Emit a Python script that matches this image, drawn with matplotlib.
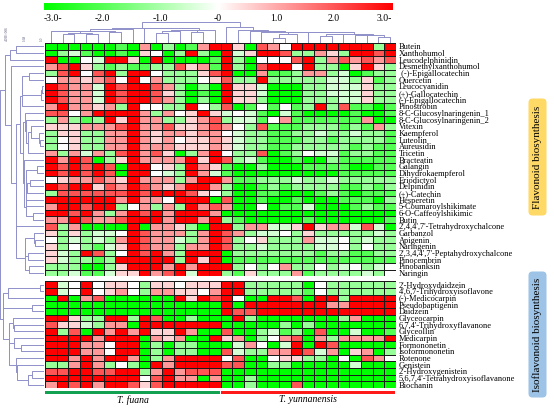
import numpy as np
import matplotlib
matplotlib.use("Agg")
import matplotlib.pyplot as plt
from matplotlib.colors import LinearSegmentedColormap
from matplotlib.patches import FancyBboxPatch, Rectangle

plt.rcParams['font.family'] = ['Liberation Serif', 'DejaVu Serif']

# ---- data (log-scaled, row-normalised abundance) ----
flav_names = ["Butein", "Xanthohumol", "Leucodelphinidin", "Desmethylxanthohumol",
              " (-)-Epigallocatechin", "Quercetin", "Leucocyanidin", "(+)-Gallocatechin",
              "(-)-Epigallocatechin", "Pinostrobin", "8-C-Glucosylnaringenin_1",
              "8-C-Glucosylnaringenin_2", "Vitexin", "Kaempferol", "Luteolin", "Aureusidin",
              "Tricetin", "Bracteatin", "Galangin", "Dihydrokaempferol", "Eriodictyol",
              "Delpinidin", "(+)-Catechin", "Hesperetin", "5-Coumaroylshikimate",
              "6-O-Caffeoylshikimic", "Butin", "2',4,4',7'-Tetrahydroxychalcone", "Garbanzol",
              "Apigenin", "Naringenin", "2',3,4,4',7'-Peptahydroxychalcone", "Pinocembrin",
              "Pinobanksin", "Naringin"]

flav_vals = [
    [-3,-3,-3,-3,-3,-3,-2,-3,1.2,-3,-1.2,-3,-2,1.2,3, 3,0.5,-3,2,1.2,0,3,3,3,3,3,3,3,-1.2,3],
    [-3,-1.2,-0.5,-2,-3,-3,-2,-3,0.5,0,-3,-1.2,3,-1.2,-3, 3,-0.5,0.5,3,3,2,-1.2,-1.2,1.2,0.5,-1.2,3,3,2,3],
    [3,-3,-3,0,-0.5,3,3,0.5,-3,3,-3,-3,-3,-3,-2, 3,-1.2,-3,0,0,0,2,3,-1.2,1.2,2,1.2,2,1.2,2],
    [1.2,2,3,0.5,-1.2,-2,-1.2,-2,-2,-1.2,-1.2,2,0.5,1.2,-2, 3,-1.2,-3,2,3,3,0,3,-1.2,-1.2,-3,0.5,3,0.5,-1.2],
    [-1.2,2,3,0,2,3,-1.2,3,3,0,-1.2,-1.2,-1.2,0.5,2, 3,-3,-3,1.2,-2,-2,-1.2,1.2,1.2,-1.2,-0.5,-3,-2,-1.2,-1.2],
    [0,1.2,1.2,0.5,1.2,2,0,3,0,1.2,-1.2,-1.2,-1.2,0,0.5, 2,-1.2,-1.2,3,-1.2,-1.2,-1.2,-1.2,-1.2,-0.5,-0.5,-1.2,0.5,-2,-1.2],
    [3,2,1.2,1.2,-0.5,3,2,3,3,2,1.2,-1.2,-3,-1.2,-3, 3,0.5,0.5,-0.5,-3,-3,-3,-1.2,-1.2,-0.5,-0.5,-0.5,0.5,-1.2,-1.2],
    [3,2,1.2,1.2,-0.5,3,2,3,3,2,0.5,-1.2,-3,-2,-3, 3,0.5,0.5,-0.5,-3,-3,-3,-1.2,-1.2,-0.5,-0.5,-0.5,0.5,-1.2,-1.2],
    [3,2,1.2,1.2,-0.5,3,2,3,3,2,1.2,-1.2,-3,-1.2,-3, 3,0.5,0.5,-1.2,-3,-3,-3,-1.2,-1.2,-1.2,-0.5,-0.5,0.5,-1.2,-1.2],
    [1.2,3,1.2,1.2,0.5,1.2,-1.2,3,0,0,-1.2,-1.2,3,0,-1.2, 2,-3,-2,0,-2,0,-2,-1.2,3,-1.2,2,-2,-2,-3,-2],
    [2,2,0,1.2,3,3,3,3,1.2,-1.2,1.2,0,0.5,3,0.5, -0.5,0,-0.5,-2,-3,-0.5,-2,-3,-3,-3,-3,-2,-3,-3,-2],
    [-1.2,1.2,-1.2,-2,-1.2,3,0.5,3,1.2,1.2,-1.2,-1.2,0.5,1.2,2, -1.2,-0.5,-0.5,-2,0,1.2,-2,-2,-2,-2,-2,-2,1.2,-3,-3],
    [0.5,0.5,0.5,1.2,1.2,1.2,2,3,1.2,1.2,2,0.5,0.5,1.2,2, 1.2,0,-1.2,2,-2,-2,-2,-1.2,-1.2,-1.2,-2,-1.2,-2,1.2,-1.2],
    [-1.2,0.5,0.5,-1.2,-1.2,1.2,1.2,3,1.2,0.5,1.2,1.2,0.5,1.2,1.2, 0,-0.5,-1.2,-1.2,-2,-2,-1.2,-1.2,-0.5,-1.2,-1.2,-0.5,-1.2,-1.2,-2],
    [-1.2,0,0.5,-1.2,-1.2,1.2,1.2,3,1.2,0.5,1.2,0,0.5,0.5,1.2, 0.5,-0.5,-1.2,-1.2,-2,-2,-2,-1.2,-1.2,-2,-1.2,-1.2,-1.2,-1.2,-2],
    [-1.2,0,0.5,-1.2,-1.2,1.2,1.2,3,1.2,1.2,1.2,0.5,0.5,0.5,1.2, 0.5,-0.5,-1.2,-1.2,-2,-2,-1.2,-1.2,-1.2,-1.2,-1.2,-2,-1.2,-2,-2],
    [1.2,-1.2,1.2,-0.5,1.2,-1.2,2,3,1.2,2,0.5,-3,-1.2,1.2,3, 0,-1.2,-1.2,2,-3,-2,-1.2,0,-0.5,-0.5,-2,-1.2,-1.2,-2,-2],
    [3,1.2,3,2,-3,-1.2,0.5,3,1.2,1.2,1.2,1.2,3,0.5,3, 2,-1.2,-0.5,-2,-3,-3,-2,-3,-3,-1.2,-2,-2,-2,-2,-2],
    [3,2,3,2,3,2,-3,3,3,0,0.5,-1.2,3,1.2,0.5, -2,-3,-3,-1.2,-3,-3,-3,-2,-2,-2,-2,-3,-3,-2,-2],
    [3,2,3,2,3,2,-3,3,3,0,-0.5,-1.2,3,1.2,-0.5, -2,-3,-3,-3,-3,-3,-3,-3,-3,-3,-2,-2,-2,-2,-2],
    [0,0.5,1.2,1.2,2,1.2,0.5,3,1.2,1.2,1.2,-1.2,1.2,3,3, 1.2,-2,-2,-1.2,-1.2,-1.2,-0.5,-1.2,-1.2,-0.5,-1.2,-1.2,-1.2,-1.2,-1.2],
    [3,2,3,3,0.5,2,1.2,3,2,1.2,0.5,1.2,3,3,1.2, -1.2,-3,-3,-2,-1.2,-2,-1.2,-1.2,-1.2,-1.2,-2,-2,-1.2,-2,-1.2],
    [-1.2,2,2,2,2,2,2,3,2,3,3,3,2,0.5,0, -1.2,-3,-3,-2,-2,-3,-3,-3,-2,-1.2,-2,-3,-2,-2,-2],
    [3,3,3,3,3,3,1.2,3,1.2,1.2,0,3,3,3,-3, 2,-3,-3,-2,-3,-3,-2,-3,-3,-3,-2,-2,-2,-3,-1.2],
    [1.2,3,3,2,3,3,-1.2,0,1.2,-1.2,1.2,-1.2,3,1.2,2, 1.2,-3,-3,0,-3,-2,-2,-0.5,-3,-3,-3,-2,-1.2,-2,-2],
    [3,3,2,3,1.2,-1.2,1.2,3,2,3,1.2,3,3,3,1.2, -3,-3,-3,-3,-3,-3,-3,-3,-3,-3,-3,-3,-3,-3,-3],
    [1.2,1.2,3,2,1.2,1.2,2,3,3,3,1.2,3,3,1.2,3, -1.2,-2,-3,-3,-3,-3,-3,-2,-3,-3,-3,-3,-3,-3,-2],
    [2,-1.2,1.2,-3,-3,-3,-3,3,-3,1.2,1.2,0.5,-1.2,-3,3, 3,-1.2,1.2,1.2,-0.5,-0.5,0.5,3,0.5,1.2,1.2,-0.5,2,-0.5,-3],
    [0.5,-1.2,0.5,-1.2,-0.5,-0.5,0,3,2,1.2,1.2,1.2,-1.2,1.2,3, 2,1.2,-1.2,-0.5,-0.5,0,-1.2,0.5,-1.2,-1.2,-1.2,-1.2,-1.2,-0.5,-1.2],
    [0,-1.2,-0.5,-1.2,-0.5,-1.2,1.2,3,2,1.2,1.2,-0.5,-1.2,1.2,3, 2,-1.2,0,0.5,-1.2,-1.2,-1.2,1.2,-0.5,-0.5,0,-1.2,-0.5,-1.2,-1.2],
    [0.5,-1.2,0,-1.2,-2,-0.5,0.5,3,2,1.2,1.2,-1.2,1.2,1.2,3, 2,-1.2,-1.2,-0.5,-1.2,-1.2,-1.2,-1.2,-0.5,-0.5,0,-1.2,0,-1.2,-1.2],
    [0.5,-0.5,-1.2,3,2,-1.2,0,3,2,3,1.2,-1.2,3,3,3, -3,-1.2,-1.2,-1.2,-1.2,-1.2,-1.2,-1.2,-2,-1.2,-1.2,-2,-2,-1.2,-1.2],
    [0.5,-0.5,-1.2,-1.2,-2,-1.2,3,3,3,3,3,-1.2,3,0.5,3, -3,-2,-2,-2,-2,-2,-2,-2,-2,-2,-2,-2,-2,-2,-2],
    [-1.2,-1.2,-1.2,-3,-3,-1.2,0.5,3,3,3,1.2,3,1.2,3,3, 3,-1.2,0,-1.2,0,1.2,-1.2,-1.2,0,-1.2,-0.5,0,-1.2,-0.5,0],
    [-1.2,-1.2,-0.5,-2,-2,-0.5,0.5,0.5,3,1.2,2,3,-0.5,3,3, -1.2,-2,0.5,-1.2,-1.2,-1.2,1.2,-2,-1.2,-1.2,-1.2,-1.2,-0.5,-1.2,0],
]

iso_names = ["2'-Hydroxydaidzein", "4',6,7-Trihydroxyisoflavone", "(-)-Medicocarpin",
             "Pseudobaptigenin", "Daidzein", "Glyceocarpin", "6,7,4'-Trihydroxyflavanone",
             "Glyceollin", "Medicarpin", "Formononetin", "Isoformononetin", "Rotenone",
             "Genistein", "2'-Hydroxygenistein", "5,6,7,4'-Tetrahydroxyisoflavanone", "Biochanin"]

iso_vals = [
    [3,-0.5,0,3,0,0.5,0.5,0,-1.2,0.5,0.5,0,0.5,0.5,0.5, 3,3,-1.2,-1.2,-1.2,-1.2,-1.2,-3,0,-1.2,-1.2,-1.2,-1.2,-1.2,-1.2],
    [3,-0.5,0,3,0,0.5,1.2,0,-1.2,1.2,1.2,0.5,0.5,0,1.2, 3,3,-1.2,-1.2,-1.2,-1.2,-1.2,-2,0,-1.2,-1.2,-1.2,-1.2,-1.2,-1.2],
    [-3,3,-3,1.2,2,-3,-3,-3,-3,-3,-3,3,0.5,3,2, 3,0,-3,-3,3,3,2,-3,3,3,-1.2,3,3,3,3],
    [-3,-3,-3,-3,-3,-3,-3,-3,-3,-3,-3,-3,-3,-3,-3, 3,-3,3,3,3,3,3,3,3,1.2,1.2,3,3,3,3],
    [-3,-3,-3,-3,-3,-3,-3,-3,-3,-3,-3,-3,-3,-3,-3, 3,2,2,3,3,3,3,3,3,3,3,3,3,3,3],
    [3,3,0.5,-1.2,-1.2,3,3,-1.2,3,2,-3,-3,-1.2,-3,-3, -3,3,-1.2,-3,-3,-3,-3,-3,-3,-3,-1.2,1.2,-3,-3,-3],
    [2,0.5,0.5,-0.5,-1.2,1.2,1.2,-3,3,3,3,3,3,3,3, -3,-3,-3,-3,-3,-1.2,-3,-1.2,-3,-3,-3,-3,-3,-3,-3],
    [3,-1.2,2,-3,3,1.2,3,1.2,3,0.5,0.5,3,1.2,-3,-3, 2,-3,-3,-1.2,-0.5,-2,-1.2,-3,2,-3,-3,-0.5,-3,-3,-2],
    [3,3,3,3,1.2,3,3,3,-3,1.2,0.5,1.2,-3,-3,3, 0.5,1.2,-3,-1.2,0,1.2,2,-3,1.2,-1.2,1.2,1.2,1.2,1.2,3],
    [3,3,3,1.2,1.2,0,3,3,-3,-1.2,-3,-1.2,-1.2,-3,-3, -3,-0.5,1.2,0,-3,-0.5,3,-3,3,2,-3,-3,-3,-3,-3],
    [3,3,3,1.2,1.2,0,3,3,-3,-1.2,-3,-1.2,-1.2,-3,-3, 2,-0.5,-1.2,-1.2,1.2,1.2,3,2,-0.5,1.2,-3,0.5,1.2,-3,-1.2],
    [3,3,1.2,3,1.2,3,3,1.2,-3,-1.2,1.2,3,3,3,3, 0,2,-3,-3,0,0.5,0.5,-1.2,-1.2,-3,0,-3,2,1.2,0],
    [-1.2,-1.2,1.2,3,1.2,-1.2,0,-1.2,-3,3,1.2,3,3,3,3, 2,2,-3,-3,-1.2,-1.2,-3,-3,-3,-3,-3,-0.5,-3,-3,-3],
    [2,2,3,3,2,2,3,3,-1.2,1.2,3,1.2,2,2,2, -3,-3,-3,-3,-3,-3,-3,-3,-3,-3,-3,-3,-3,-3,-3],
    [3,3,3,3,3,3,3,3,0,2,3,1.2,1.2,-3,1.2, -3,-3,-1.2,-3,-3,-3,-3,-3,-3,-3,-3,-3,-3,-3,-3],
    [1.2,3,2,3,1.2,3,3,2,0.5,2,3,3,3,3,3, -3,-3,-1.2,-3,-3,-3,2,-3,-3,-3,-3,-3,-3,-3,-3],
]

groups = ["T. fuana", "T. yunnanensis"]
n_per_group = [15, 15]
cbar_ticks = [-3, -2, -1, 0, 1, 2, 3]
cbar_labels = ["-3.0-", "-2.0", "-1.0", "-0", "1.0", "2.0", "3.0-"]

# ---- layout in pixels ----
W, H = 554, 409
HX0, HX1 = 45, 396
FY0, FY1 = 43, 276.4
IY0, IY1 = 281.3, 388
DCOL = '#9090CA'

fig = plt.figure(figsize=(W / 100, H / 100), dpi=100)


def px_axes(x0, y0, x1, y1):
    return fig.add_axes([x0 / W, 1 - y1 / H, (x1 - x0) / W, (y1 - y0) / H])


cmap = LinearSegmentedColormap.from_list('gwr', ['#00FF00', '#FFFFFF', '#FF0000'])
flav = np.array(flav_vals, dtype=float)
iso = np.array(iso_vals, dtype=float)


# adjacency constrained average linkage (keeps the drawn order)
def adj_linkage(M, pos):
    cl = [dict(idx=[i], pos=pos[i], h=0.0) for i in range(len(M))]
    segs = []
    while len(cl) > 1:
        best = None
        for k in range(len(cl) - 1):
            a, b = cl[k], cl[k + 1]
            d = np.mean([np.linalg.norm(M[i] - M[j]) for i in a['idx'] for j in b['idx']])
            if best is None or d < best[0]:
                best = (d, k)
        d, k = best
        a, b = cl[k], cl[k + 1]
        h = max(d, a['h'], b['h'])
        segs.append((a['pos'], a['h'], b['pos'], b['h'], h))
        cl[k:k + 2] = [dict(idx=a['idx'] + b['idx'], pos=(a['pos'] + b['pos']) / 2, h=h)]
    return segs, cl[0]


# heatmaps
for vals, names, y0, y1 in [(flav, flav_names, FY0, FY1), (iso, iso_names, IY0, IY1)]:
    ax = px_axes(HX0, y0, HX1, y1)
    ax.pcolormesh(vals, cmap=cmap, vmin=-3, vmax=3, edgecolors='#1a1a1a', linewidth=0.45)
    ax.set_xlim(0, vals.shape[1])
    ax.set_ylim(vals.shape[0], 0)
    ax.set_xticks([])
    ax.yaxis.tick_right()
    ax.set_yticks(np.arange(len(names)) + 0.5)
    ax.set_yticklabels(names, fontsize=6.0)
    ax.tick_params(axis='y', length=0, pad=2.2)
    for s in ax.spines.values():
        s.set_visible(False)

# column dendrogram
allv = np.vstack([flav, iso])
csegs, croot = adj_linkage(allv.T, np.arange(allv.shape[1]) + 0.5)
axt = px_axes(HX0, 22, HX1, FY0)
for pa, ha, pb, hb, h in csegs:
    axt.plot([pa, pa, pb, pb], [ha, h, h, hb], color=DCOL, lw=0.7)
axt.set_xlim(0, allv.shape[1])
axt.set_ylim(0, croot['h'])
axt.axis('off')

# row dendrogram
fpos = FY0 + (FY1 - FY0) * (np.arange(len(flav)) + 0.5) / len(flav)
ipos = IY0 + (IY1 - IY0) * (np.arange(len(iso)) + 0.5) / len(iso)
s1, r1 = adj_linkage(flav, fpos)
s2, r2 = adj_linkage(iso, ipos)
dgap = np.mean([np.linalg.norm(a - b) for a in flav for b in iso])
hroot = max(dgap, r1['h'], r2['h']) * 1.05
axl = px_axes(0, FY0, 44, IY1)
for pa, ha, pb, hb, h in s1 + s2 + [(r1['pos'], r1['h'], r2['pos'], r2['h'], hroot)]:
    axl.plot([ha, h, h, hb], [pa, pa, pb, pb], color=DCOL, lw=0.7)
axl.set_xlim(hroot * 1.01, 0)
axl.set_ylim(IY1, FY0)
axl.axis('off')

# colour key
axc = px_axes(44, 3, 392, 10.5)
axc.imshow(np.linspace(-3, 3, 256)[None, :], cmap=cmap, vmin=-3, vmax=3,
           aspect='auto', extent=[-3, 3, 0, 1])
axc.set_yticks([])
axc.set_xticks(cbar_ticks)
axc.set_xticklabels(cbar_labels, fontsize=7)
axc.tick_params(axis='x', length=0, pad=2.5)
labs = axc.get_xticklabels()
labs[0].set_ha('left')
labs[-1].set_ha('right')
for s in axc.spines.values():
    s.set_visible(False)

# overlay for annotations
ov = fig.add_axes([0, 0, 1, 1], zorder=-1)
ov.set_xlim(0, W)
ov.set_ylim(H, 0)
ov.axis('off')

cw = (HX1 - HX0) / sum(n_per_group)
gx = HX0
for g, n, c in zip(groups, n_per_group, ['#12A150', '#FF1A1A']):
    ov.add_patch(Rectangle((gx, 391), n * cw - 1, 3, color=c, lw=0))
    ov.text(gx + n * cw / 2, 400, g, ha='center', va='center', fontsize=7, style='italic')
    gx += n * cw

for (y0, y1, col, txt) in [(98, 216, '#FFD966', 'Flavonoid biosynthesis'),
                           (271, 398, '#9DC3E6', 'Isoflavonoid biosynthesis')]:
    ov.add_patch(FancyBboxPatch((530, y0 + 2), 15, y1 - y0 - 4,
                                boxstyle='round,pad=1.5,rounding_size=4', fc=col, ec='none'))
    ov.text(537.5, (y0 + y1) / 2, txt, rotation=90, ha='center', va='center', fontsize=8)

# dendrogram scale marks
for x, t in [(7, '4.03E-006'), (25, '1.68'), (42, '1.0')]:
    ov.text(x, 41, t, rotation=90, ha='center', va='bottom', fontsize=2.6, color='#555577')

fig.savefig('out.png', dpi=100)
